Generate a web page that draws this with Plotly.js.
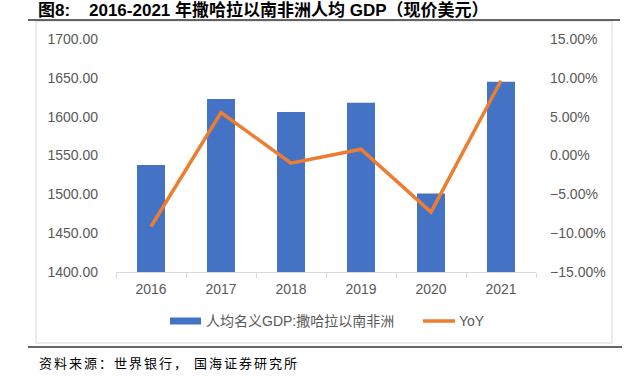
<!DOCTYPE html>
<html>
<head>
<meta charset="utf-8">
<script src="https://cdn.plot.ly/plotly-3.0.1.min.js"></script>
<style>html,body{margin:0;padding:0;background:#fff;}</style>
</head>
<body>
<div id="chart" style="width:629px;height:380px;"></div>
<script>
const years = ['2016','2017','2018','2019','2020','2021'];
const gdpPerCapita = [1537.7, 1622.7, 1606.0, 1618.0, 1501.0, 1645.0];
const yoy = [-0.0914, 0.0552, -0.0099, 0.0081, -0.0729, 0.0963];
const barName = '人均名义GDP:撒哈拉以南非洲';
const lineName = 'YoY';
const titleText = '<b>图8:    2016-2021 年撒哈拉以南非洲人均 GDP（现价美元）</b>';
const sourceText = '资料来源：世界银行， 国海证券研究所';

const W = 629, H = 380;
const L = 116, R = 536, T = 39, B = 272;
const px = x => (x - L) / (R - L);
const py = y => (B - y) / (B - T);
const FONT = 'Liberation Sans, Arial, Noto Sans CJK SC, sans-serif';
const GRAY = '#595959';
const BLUE = '#4472C4', ORANGE = '#ED7D31';

const traces = [
  {type:'bar', x: years, y: gdpPerCapita, name: barName, marker:{color: BLUE}, yaxis:'y', hoverinfo:'skip'},
  {type:'scatter', mode:'lines', x: years, y: yoy, name: lineName, line:{color: ORANGE, width:3.5}, yaxis:'y2', hoverinfo:'skip'}
];

const layout = {
  width: W, height: H,
  margin: {l: L, r: W - R, t: T, b: H - B, pad: 0},
  paper_bgcolor:'#fff', plot_bgcolor:'#fff',
  showlegend: false,
  bargap: 0.6,
  font: {family: FONT, size: 14, color: GRAY},
  title: {text: titleText, x: 38/W, xanchor:'left', xref:'container', y: 1 - 10/H, yanchor:'middle', yref:'container',
          font:{family: FONT, size: 17, color:'#000'}},
  xaxis: {type:'category', showgrid:false, zeroline:false, showline:true, linecolor:'#d9d9d9', linewidth:1,
          ticks:'outside', tickson:'boundaries', ticklen:5, tickcolor:'#d9d9d9', ticklabelstandoff: 4,
          tickfont:{size:14, color: GRAY}, fixedrange:true},
  yaxis: {range:[1400,1700], dtick:50, tick0:1400, tickformat:'.2f', showgrid:false, zeroline:false, showline:false,
          ticks:'', ticklabelstandoff: 17, tickfont:{size:14, color: GRAY}},
  yaxis2: {range:[-0.15,0.15], dtick:0.05, tick0:-0.15, tickformat:'.2%', overlaying:'y', side:'right',
           showgrid:false, zeroline:false, showline:false, ticks:'', ticklabelstandoff: 13, tickfont:{size:14, color: GRAY}},
  shapes: [
    {type:'rect', xref:'paper', yref:'paper', x0: px(36), x1: px(612), y0: py(343), y1: py(21), line:{color:'#d9d9d9', width:1}, layer:'below'},
    {type:'line', xref:'paper', yref:'paper', x0: px(28), x1: px(620), y0: py(20), y1: py(20), line:{color:'#333', width:1.5}},
    {type:'line', xref:'paper', yref:'paper', x0: px(28), x1: px(622), y0: py(347), y1: py(347), line:{color:'#333', width:1.5}},
    {type:'rect', xref:'paper', yref:'paper', x0: px(170), x1: px(201), y0: py(324.5), y1: py(317.5), fillcolor: BLUE, line:{width:0}},
    {type:'line', xref:'paper', yref:'paper', x0: px(423), x1: px(455), y0: py(321), y1: py(321), line:{color: ORANGE, width:3.5}}
  ],
  annotations: [
    {xref:'paper', yref:'paper', x: px(204), y: py(321), xanchor:'left', yanchor:'middle', showarrow:false,
     text: barName, font:{size:14, color: GRAY}},
    {xref:'paper', yref:'paper', x: px(457), y: py(321), xanchor:'left', yanchor:'middle', showarrow:false,
     text: lineName, font:{size:14, color: GRAY}},
    {xref:'paper', yref:'paper', x: px(37), y: py(362), xanchor:'left', yanchor:'middle', showarrow:false,
     text: '<span style="letter-spacing:2px">' + sourceText + '</span>',
     font:{family:'Noto Sans CJK SC, sans-serif', size:13, color:'#000'}}
  ]
};

Plotly.newPlot('chart', traces, layout, {staticPlot:true, displayModeBar:false});
</script>
</body>
</html>
